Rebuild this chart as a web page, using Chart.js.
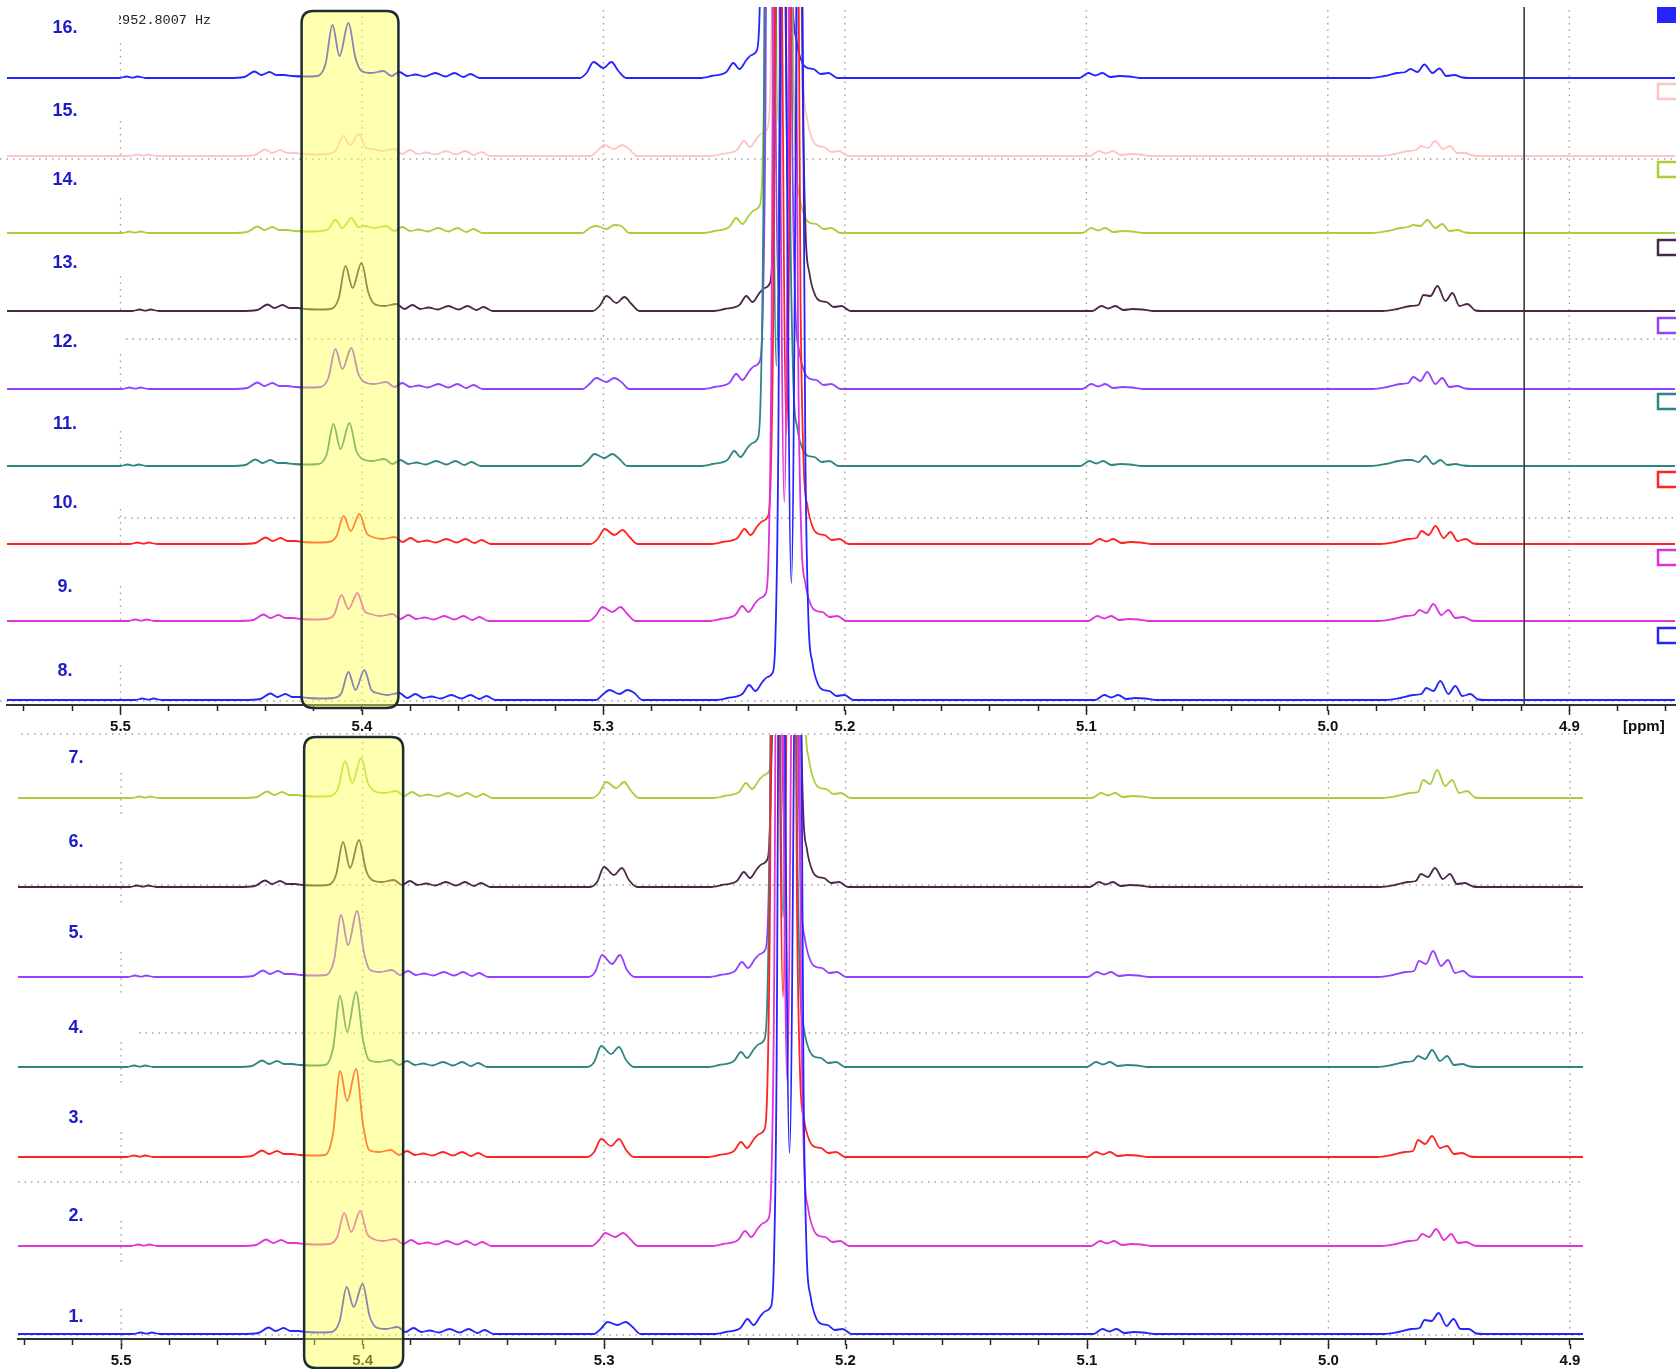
<!DOCTYPE html>
<html>
<head>
<meta charset="utf-8">
<script src="https://cdn.jsdelivr.net/npm/chart.js@4.4.0/dist/chart.umd.min.js"></script>
<style>
  html, body { margin: 0; padding: 0; background: #fff; overflow: hidden; width: 1676px; height: 1369px; }
  canvas { position: absolute; left: 0; }
  #topPanel { top: 0; }
  #bottomPanel { top: 728px; }
</style>
</head>
<body>
<canvas id="topPanel" width="1676" height="742"></canvas>
<canvas id="bottomPanel" width="1676" height="648"></canvas>
<script>
// shared chemical shift grid (ppm) of the traced points
const ppmGrid = [
  5.5600, 5.5004, 5.4975, 5.4950, 5.4930, 5.4896, 5.4557, 5.4487, 5.4445, 5.4416,
  5.4383, 5.4354, 5.4321, 5.4288, 5.4238, 5.4184, 5.4151, 5.4122, 5.4093, 5.4056,
  5.4027, 5.4002, 5.3961, 5.3911, 5.3878, 5.3845, 5.3812, 5.3778, 5.3741, 5.3696,
  5.3654, 5.3617, 5.3580, 5.3551, 5.3513, 5.3099, 5.3070, 5.3041, 5.3000, 5.2967,
  5.2938, 5.2905, 5.2602, 5.2553, 5.2491, 5.2462, 5.2437, 5.2408, 5.2387, 5.2366,
  5.2354, 5.2342, 5.2325, 5.2288, 5.2251, 5.2230, 5.2217, 5.2201, 5.2176, 5.2155,
  5.2130, 5.2101, 5.2068, 5.2031, 5.1029, 5.0992, 5.0963, 5.0934, 5.0901, 5.0863,
  5.0822, 5.0781, 4.9828, 4.9766, 4.9712, 4.9679, 4.9658, 4.9629, 4.9600, 4.9567,
  4.9538, 4.9509, 4.9476, 4.9443, 4.9414, 4.8400
];

// intensities common to all spectra (small multiplets, big peak flanks)
const baseProfile = [
  0, 0, 1.5, 0.3, 1.5, 0, 0, 1, 6.5, 3,
  6, 3, 3, 2, 1.5, 2, 14, 53, 22, 55,
  20, 7, 5, 7, 2, 6, 2, 3.5, 1.5, 5,
  1.5, 5, 1, 4, 0, 0, 5, 16, 10, 16,
  7, 0, 0, 2, 6, 15, 9, 18, 23, 27,
  60, 250, 1000, 100, 1000, 250, 80, 38, 15, 10,
  9, 4, 5, 0, 0, 5, 2.5, 5, 1, 2,
  1.5, 0, 0, 2, 5, 6, 9, 6, 13.5, 5,
  9.5, 2, 3, 0.5, 0, 0
];

// per spectrum values, spectra 1 .. 16
const spectrumNames = ['1.', '2.', '3.', '4.', '5.', '6.', '7.', '8.', '9.', '10.', '11.', '12.', '13.', '14.', '15.', '16.'];
const shiftPpm = [0.0056, 0.0046, 0.0029, 0.0029, 0.0033, 0.0041, 0.0050, 0.0066, 0.0037, 0.0046, 0.0004, 0.0012, 0.0054, 0.0012, 0.0044, 0];

// 5.41/5.40 doublet: rise, peak, valley, peak, fall
const doublet540 = [
  [13, 47, 27, 50, 18], [9, 33, 14, 35, 12], [24, 86, 56, 88, 32], [19, 71, 35, 75, 27],
  [17, 62, 32, 66, 24], [12, 45, 19, 47, 17], [10, 37, 15, 40, 14], [7, 28, 10, 30, 10],
  [7, 26, 12, 28, 10], [8, 28, 13, 30, 11], [11, 42, 17, 43, 15], [11, 40, 20, 41, 15],
  [12, 45, 23, 48, 18], [4, 13, 5, 15, 6], [6, 20, 11, 22, 8], [14, 53, 22, 55, 20]
];
// 5.30 pair: peak, valley, peak
const pair530 = [
  [12, 9, 12], [13, 9, 13], [18, 11, 18], [21, 13, 20], [22, 13, 22], [20, 12, 19], [16, 10, 16], [10, 6, 10],
  [14, 9, 14], [15, 9, 14], [12, 8, 12], [11, 7, 11], [15, 8, 14], [7, 4, 8], [11, 7, 11], [16, 10, 16]
];
// dip between the two tall lines at 5.23
const bigDip = [181, 166, 160, 150, 150, 150, 150, 117, 119, 110, 100, 100, 100, 110, 100, 100];
// 4.96 multiplet
const mult496 = [
  [14, 13, 21, 8, 15, 5, 5], [12, 9, 17, 6, 12, 3, 4], [17, 13, 21, 9, 11, 3, 4], [11, 8, 17, 6, 11, 2, 3],
  [16, 13, 26, 11, 17, 4, 6], [13, 10, 19, 8, 13, 3, 4], [18, 14, 28, 12, 18, 5, 7], [12, 9, 19, 6, 14, 4, 6],
  [11, 8, 17, 6, 11, 3, 4], [13, 9, 18, 6, 12, 3, 5], [6, 4, 10, 2, 6, 1, 2], [12, 8, 17, 5, 11, 2, 3],
  [16, 15, 25, 10, 18, 5, 7], [8, 7, 13, 5, 9, 2, 3], [10, 8, 15, 7, 10, 3, 3], [9, 6, 13.5, 5, 9.5, 2, 3]
];

const lineColors = ['#2424ff', '#e036d6', '#ff2424', '#2f8580', '#9340ff', '#4d2747', '#a9cf3a', '#2424ff',
                    '#dd33dd', '#ff2424', '#2f8580', '#9340ff', '#4d2747', '#a9cf3a', '#ffc4c4', '#2424ff'];

const majorTicks = [5.5, 5.4, 5.3, 5.2, 5.1, 5.0, 4.9];
const tickLabels = ['5.5', '5.4', '5.3', '5.2', '5.1', '5.0', '4.9'];

// layout of the two panels (page pixels)
const panels = {
  topPanel: {
    canvasTop: 0, padding: { left: 7, right: 0, top: 7, bottom: 0 },
    ppmMin: 4.8562, ppmMax: 5.5470, lastTick: 4.86,
    spectra: [16, 15, 14, 13, 12, 11, 10, 9, 8],
    baselineY: [78, 156, 233, 311, 389, 466, 544, 621, 700],
    labelY: [28, 111, 180, 263, 342, 424, 503, 587, 671], labelX: 65,
    box: { from: 5.4250, to: 5.3849, top: 11, bottom: 708 },
    hDots: [[159, 0, 1676], [339, 126, 1676], [518, 118, 1676], [701, 0, 1676]],
    vTop: 10, seg: [35, 4],
    legendTop: [7, 83, 161, 239, 317, 393, 471, 549, 627],
    marker: 4.9187
  },
  bottomPanel: {
    canvasTop: 728, padding: { left: 18, right: 93, top: 7, bottom: 0 },
    ppmMin: 4.8946, ppmMax: 5.5427, lastTick: 4.90,
    spectra: [7, 6, 5, 4, 3, 2, 1],
    baselineY: [798, 887, 977, 1067, 1157, 1246, 1334],
    labelY: [758, 842, 933, 1028, 1118, 1216, 1317], labelX: 76,
    box: { from: 5.4242, to: 5.3832, top: 737, bottom: 1368 },
    hDots: [[734, 21, 1583], [885, 18, 1583], [1033, 139, 1583], [1182, 18, 1583], [1335, 18, 1583]],
    vTop: 742, seg: [25, 20]
  }
};

function spectrumPoints(n, baseline) {
  const i = n - 1;
  const h = baseProfile.slice();
  doublet540[i].forEach((v, j) => { h[16 + j] = v; });
  pair530[i].forEach((v, j) => { h[37 + j] = v; });
  h[53] = bigDip[i];
  mult496[i].forEach((v, j) => { h[76 + j] = v; });
  return ppmGrid.map((p, k) => ({ x: p - shiftPpm[i], y: baseline - h[k] }));
}

function line(ctx, x0, y0, x1, y1) {
  ctx.beginPath(); ctx.moveTo(x0, y0); ctx.lineTo(x1, y1); ctx.stroke();
}

const panelPlugin = {
  id: 'panel',
  beforeDatasetsDraw(chart) {
    const cfg = panels[chart.canvas.id];
    const ctx = chart.ctx, xs = chart.scales.x, T = cfg.canvasTop;
    const axisY = chart.chartArea.bottom;
    ctx.save();
    ctx.strokeStyle = '#a2a2a2';
    ctx.lineWidth = 1.4;
    ctx.setLineDash([1.5, 5]);
    cfg.hDots.forEach(([y, x0, x1]) => line(ctx, x0, y - T, x1, y - T));
    majorTicks.forEach(v => {
      const px = xs.getPixelForValue(v);
      if (v === 5.5) {
        cfg.baselineY.forEach(b => line(ctx, px, b - cfg.seg[0] - T, px, b + cfg.seg[1] - T));
      } else {
        line(ctx, px, cfg.vTop - T, px, axisY);
      }
    });
    ctx.restore();
  },
  afterDraw(chart) {
    const cfg = panels[chart.canvas.id];
    const ctx = chart.ctx, xs = chart.scales.x, T = cfg.canvasTop;
    const axisY = chart.chartArea.bottom;
    ctx.save();

    // longer major ticks
    ctx.strokeStyle = '#222';
    ctx.lineWidth = 1.5;
    majorTicks.forEach(v => {
      const px = Math.round(xs.getPixelForValue(v)) + 0.5;
      line(ctx, px, axisY + 5, px, axisY + 10);
    });

    // cursor line
    if (cfg.marker) {
      const px = xs.getPixelForValue(cfg.marker);
      ctx.strokeStyle = '#3a3a3a';
      ctx.lineWidth = 1.6;
      line(ctx, px, 7 - T, px, axisY);
    }

    // highlight box
    const bx0 = xs.getPixelForValue(cfg.box.from), bx1 = xs.getPixelForValue(cfg.box.to);
    const by0 = cfg.box.top - T, by1 = cfg.box.bottom - T, r = 12;
    ctx.beginPath();
    ctx.moveTo(bx0 + r, by0);
    ctx.lineTo(bx1 - r, by0);
    ctx.quadraticCurveTo(bx1, by0, bx1, by0 + r);
    ctx.lineTo(bx1, by1 - r);
    ctx.quadraticCurveTo(bx1, by1, bx1 - r, by1);
    ctx.lineTo(bx0 + r, by1);
    ctx.quadraticCurveTo(bx0, by1, bx0, by1 - r);
    ctx.lineTo(bx0, by0 + r);
    ctx.quadraticCurveTo(bx0, by0, bx0 + r, by0);
    ctx.closePath();
    ctx.fillStyle = 'rgba(255, 255, 80, 0.45)';
    ctx.fill();
    ctx.strokeStyle = '#1b2d33';
    ctx.lineWidth = 2.5;
    ctx.stroke();

    // spectrum numbers
    ctx.fillStyle = '#1c1cc8';
    ctx.font = 'bold 18px "Liberation Sans", Arial, sans-serif';
    ctx.textAlign = 'center';
    ctx.textBaseline = 'middle';
    cfg.spectra.forEach((n, k) => ctx.fillText(spectrumNames[n - 1], cfg.labelX, cfg.labelY[k] - T));

    if (cfg.legendTop) {
      // colour boxes at the right edge
      ctx.lineWidth = 2.5;
      cfg.spectra.forEach((n, k) => {
        const y = cfg.legendTop[k] - T;
        ctx.strokeStyle = lineColors[n - 1];
        if (n === 16) {
          ctx.fillStyle = lineColors[n - 1];
          ctx.fillRect(1657, y, 22, 16);
        } else {
          ctx.strokeRect(1658, y + 1, 22, 15);
        }
      });

      // frequency readout
      ctx.save();
      ctx.beginPath();
      ctx.rect(119, 0, 200, 40);
      ctx.clip();
      ctx.fillStyle = '#222';
      ctx.font = '13.5px "Liberation Mono", "Courier New", monospace';
      ctx.textAlign = 'left';
      ctx.textBaseline = 'alphabetic';
      ctx.fillText('2952.8007 Hz', 114, 24);
      ctx.restore();

      // unit label
      ctx.fillStyle = '#111';
      ctx.font = 'bold 15px "Liberation Sans", Arial, sans-serif';
      ctx.textAlign = 'left';
      ctx.textBaseline = 'middle';
      ctx.fillText('[ppm]', 1623, axisY + 21.5);
    }
    ctx.restore();
  }
};

function makeChart(id) {
  const cfg = panels[id];
  const tickValues = [];
  for (let v = 5.54; v > cfg.lastTick - 0.001; v -= 0.02) tickValues.push(Math.round(v * 100) / 100);

  const order = cfg.spectra.map((n, k) => ({ n, base: cfg.baselineY[k] })).reverse();
  const datasets = order.map(s => ({
    label: spectrumNames[s.n - 1],
    data: spectrumPoints(s.n, s.base),
    borderColor: lineColors[s.n - 1],
    borderWidth: 1.8,
    pointRadius: 0,
    fill: false,
    cubicInterpolationMode: 'monotone'
  }));

  const chart = new Chart(document.getElementById(id), {
    type: 'line',
    data: { datasets },
    options: {
      responsive: false,
      animation: false,
      devicePixelRatio: 1,
      layout: { padding: cfg.padding },
      plugins: { legend: { display: false }, tooltip: { enabled: false } },
      scales: {
        x: {
          type: 'linear',
          reverse: true,
          min: cfg.ppmMin,
          max: cfg.ppmMax,
          afterBuildTicks: s => { s.ticks = tickValues.map(v => ({ value: v })); },
          ticks: {
            autoSkip: false,
            maxRotation: 0,
            padding: 8,
            color: '#111',
            font: { family: '"Liberation Sans", Arial, sans-serif', size: 15, weight: 'bold', lineHeight: 1 },
            callback: v => {
              const k = majorTicks.findIndex(m => Math.abs(m - v) < 1e-6);
              return k >= 0 ? tickLabels[k] : '';
            }
          },
          grid: { drawOnChartArea: false, drawTicks: true, tickLength: 6, tickColor: '#222', tickWidth: 1.5 },
          border: { display: true, color: '#333', width: 2 }
        },
        y: { type: 'linear', display: false, reverse: true, min: 0, max: 1 }
      }
    },
    plugins: [panelPlugin]
  });

  // map the hidden y scale onto page rows so baselines land where the reference has them
  const a = chart.chartArea;
  chart.options.scales.y.min = cfg.canvasTop + a.top;
  chart.options.scales.y.max = cfg.canvasTop + a.bottom;
  chart.update();
  return chart;
}

makeChart('topPanel');
makeChart('bottomPanel');
</script>
</body>
</html>
